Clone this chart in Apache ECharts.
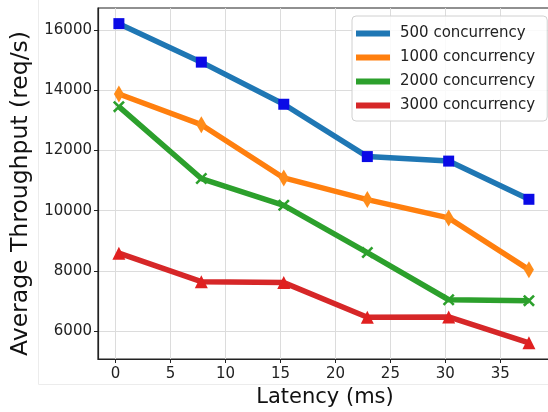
<!DOCTYPE html>
<html><head><meta charset="utf-8">
<script src="https://cdn.jsdelivr.net/npm/echarts@6/dist/echarts.min.js"></script>
<style>html,body{margin:0;padding:0;background:#fff}#c{width:548px;height:412px}</style>
</head><body><div id="c"></div>
<script>
const latency = [0.3, 7.8, 15.3, 22.9, 30.3, 37.6];
const c500 = [16220, 14940, 13540, 11800, 11650, 10380];
const c1000 = [13880, 12860, 11090, 10370, 9760, 8040];
const c2000 = [13460, 11070, 10180, 8610, 7040, 7010];
const c3000 = [8590, 7640, 7610, 6460, 6470, 5610];
const seriesNames = ['500 concurrency', '1000 concurrency', '2000 concurrency', '3000 concurrency'];
const xTicks = [0, 5, 10, 15, 20, 25, 30, 35];
const yTicks = [6000, 8000, 10000, 12000, 14000, 16000];

const lineColors = ['#1f77b4', '#ff7f0e', '#2ca02c', '#d62728'];
const markerColors = ['#0a0ae6', '#ff8c1a', '#2ca02c', '#e02020'];
const xPath = 'path://M0,1.5L1.5,0L5,3.5L8.5,0L10,1.5L6.5,5L10,8.5L8.5,10L5,6.5L1.5,10L0,8.5L3.5,5Z';
const symbols = ['rect', 'diamond', xPath, 'triangle'];
const symbolSizes = [11, [10, 17], 12, 13];
const allValues = [c500, c1000, c2000, c3000];

const font = 'DejaVu Sans';
const chart = echarts.init(document.getElementById('c'));
chart.setOption({
  animation: false,
  backgroundColor: '#fff',
  graphic: [{
    type: 'polyline', silent: true, z: -1,
    shape: { points: [[38.5, 0], [38.5, 384.5], [560, 384.5]] },
    style: { stroke: '#ececec', lineWidth: 1, fill: null }
  }],
  grid: { left: 98, top: 8, right: -4, bottom: 53, show: true, borderColor: '#222', borderWidth: 1.2, outerBoundsMode: 'none', containLabel: false },
  xAxis: {
    type: 'value', min: -1.6, max: 39.7,
    name: 'Latency (ms)', nameLocation: 'middle', nameGap: 28,
    nameTextStyle: { fontFamily: font, fontSize: 21, color: '#111' },
    axisLine: { onZero: false, lineStyle: { color: '#222', width: 1.2 } },
    axisTick: { show: true, customValues: xTicks, length: 4, lineStyle: { color: '#222' } },
    axisLabel: { customValues: xTicks, fontFamily: font, fontSize: 15, color: '#222', margin: 8 },
    splitLine: { show: true, lineStyle: { color: '#dcdcdc', width: 1 } }
  },
  yAxis: {
    type: 'value', min: 5070, max: 16740,
    name: 'Average Throughput (req/s)', nameLocation: 'middle', nameGap: 60,
    nameTextStyle: { fontFamily: font, fontSize: 23.5, color: '#111', padding: [0, 20, 0, 0] },
    axisLine: { show: true, onZero: false, lineStyle: { color: '#222', width: 1.2 } },
    axisTick: { show: true, customValues: yTicks, length: 4, lineStyle: { color: '#222' } },
    axisLabel: { customValues: yTicks, formatter: v => String(v), fontFamily: font, fontSize: 15, color: '#222', margin: 6 },
    splitLine: { show: true, lineStyle: { color: '#dcdcdc', width: 1 } }
  },
  legend: {
    left: 352, top: 16, orient: 'vertical',
    backgroundColor: 'rgba(255,255,255,0.85)', borderColor: '#d0d0d0', borderWidth: 1, borderRadius: 4,
    padding: [10, 12, 8, 4],
    itemWidth: 34, itemHeight: 6, itemGap: 9,
    icon: 'rect',
    textStyle: { fontFamily: font, fontSize: 15, color: '#222', padding: [0, 0, 0, 5] },
    data: seriesNames.map((n, i) => ({ name: n, itemStyle: { color: lineColors[i] } }))
  },
  series: allValues.map((vals, i) => ({
    name: seriesNames[i],
    type: 'line',
    data: latency.map((x, j) => [x, vals[j]]),
    symbol: symbols[i],
    symbolSize: symbolSizes[i],
    showSymbol: true,
    lineStyle: { color: lineColors[i], width: 5.5 },
    itemStyle: { color: markerColors[i], borderWidth: 0 },
    z: 2 + i
  }))
});
</script></body></html>
